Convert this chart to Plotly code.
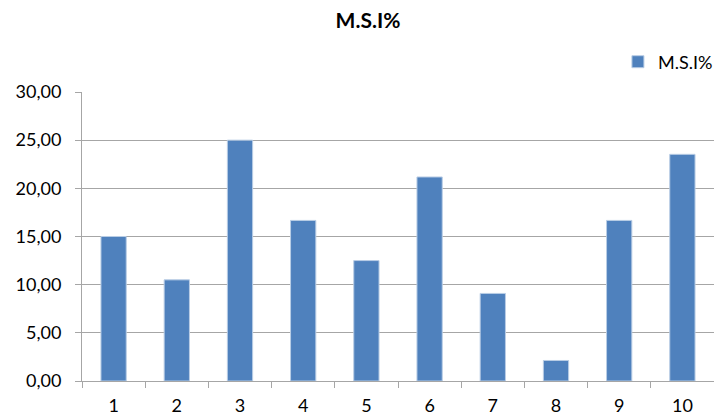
import plotly.graph_objects as go

categories = ["1", "2", "3", "4", "5", "6", "7", "8", "9", "10"]
msi = [15.00, 10.50, 25.00, 16.67, 12.50, 21.18, 9.09, 2.13, 16.67, 23.53]
y_ticks = [0, 5, 10, 15, 20, 25, 30]

fig = go.Figure()
fig.add_trace(go.Bar(x=categories, y=msi, name="M.S.I%",
                     marker=dict(color="#4F81BD", line=dict(color="#B9CDE5", width=1))))

fig.update_layout(
    width=714, height=420,
    margin=dict(l=82, r=0, t=92, b=39, autoexpand=False),
    paper_bgcolor="white", plot_bgcolor="white",
    font=dict(family="Lato, Open Sans, sans-serif", size=18, color="#000000"),
    separators=",.",
    bargap=0.6,
    title=dict(text="<b>M.S.I%</b>", x=368 / 714, xref="container", xanchor="center",
               y=1 - 21 / 420, yref="container", yanchor="middle",
               font=dict(size=21, color="#000000")),
    showlegend=True,
    legend=dict(x=0.848, xanchor="left", y=1 + 30 / 289, yanchor="middle",
                font=dict(size=18), bgcolor="rgba(0,0,0,0)", itemwidth=30),
)
fig.update_xaxes(type="category", showline=True, linecolor="#A6A6A6", linewidth=1,
                 ticks="outside", tickson="boundaries", ticklen=6, tickcolor="#A6A6A6",
                 ticklabelstandoff=8, showgrid=False, automargin=False)
fig.update_yaxes(range=[0, 30], tickvals=y_ticks, tickformat=".2f",
                 showline=True, linecolor="#A6A6A6", linewidth=1,
                 ticks="outside", ticklen=6, tickcolor="#A6A6A6", ticklabelstandoff=10,
                 showgrid=True, gridcolor="#A6A6A6", gridwidth=1, zeroline=False,
                 automargin=False)

# drop the default page margin so the figure sits at the window's corner
fig.write_html("out.html", config={"displayModeBar": False},
               post_script="document.body.style.margin='0';")
